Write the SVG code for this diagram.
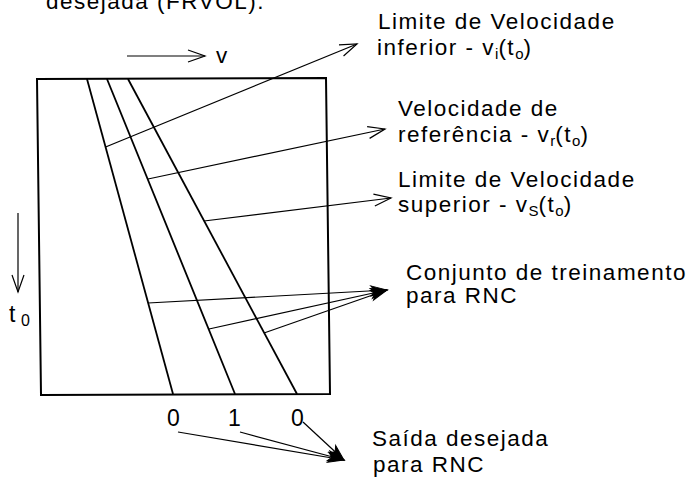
<svg xmlns="http://www.w3.org/2000/svg" width="695" height="487" viewBox="0 0 695 487">
<style>
text{font-family:"Liberation Sans",Arial,sans-serif;fill:#000}
.lbl{font-size:22.5px;letter-spacing:1.5px}
.sub{font-size:15px;letter-spacing:0}
.num{font-size:23px}
.frame{fill:none;stroke:#000;stroke-width:2}
.curve{fill:none;stroke:#000;stroke-width:1.8}
.con{fill:none;stroke:#000;stroke-width:1.2}
</style>
<defs>
<marker id="open" markerUnits="userSpaceOnUse" markerWidth="20" markerHeight="14" refX="18" refY="7" orient="auto">
<path d="M1,1 L18,7 L1,13" fill="none" stroke="#000" stroke-width="1.2"/>
</marker>
<marker id="fill" markerUnits="userSpaceOnUse" markerWidth="20" markerHeight="14" refX="18" refY="7" orient="auto">
<path d="M2,2 L18,7 L2,12 L6,7 Z" fill="#000" stroke="#000" stroke-width="1"/>
</marker>
</defs>
<rect width="695" height="487" fill="#fff"/>
<text class="lbl" x="46" y="9">desejada (FRVOL).</text>
<g id="plot">
<path class="frame" d="M37,79 L326,78 L330,394 L41,395 Z"/>
<line class="curve" x1="87" y1="79" x2="173" y2="394"/>
<line class="curve" x1="107" y1="79" x2="235" y2="394"/>
<line class="curve" x1="128" y1="79" x2="297" y2="394"/>
</g>
<g id="axis-v">
<line class="con" x1="127" y1="56" x2="205" y2="56" marker-end="url(#open)"/>
<text class="lbl" x="216" y="63">v</text>
</g>
<g id="axis-t">
<line class="con" x1="18" y1="213" x2="18" y2="292" marker-end="url(#open)"/>
<text x="9" y="322" style="font-size:23px">t</text>
<text x="21" y="326" style="font-size:16px">0</text>
</g>
<g id="outputs">
<text class="num" x="167" y="426">0</text>
<text class="num" x="228" y="426">1</text>
<text class="num" x="291" y="426">0</text>
</g>
<g id="label-inferior">
<text class="lbl" x="378" y="29">Limite de Velocidade</text>
<text class="lbl" x="377" y="55">inferior - v<tspan class="sub" dy="4">i</tspan><tspan dy="-4">(t</tspan><tspan class="sub" dy="4">o</tspan><tspan dy="-4">)</tspan></text>
</g>
<g id="label-referencia">
<text class="lbl" x="398" y="116">Velocidade de</text>
<text class="lbl" x="398" y="142">referência - v<tspan class="sub" dy="4">r</tspan><tspan dy="-4">(t</tspan><tspan class="sub" dy="4">o</tspan><tspan dy="-4">)</tspan></text>
</g>
<g id="label-superior">
<text class="lbl" x="398" y="187">Limite de Velocidade</text>
<text class="lbl" x="398" y="212">superior - v<tspan class="sub" dy="4">S</tspan><tspan dy="-4">(t</tspan><tspan class="sub" dy="4">o</tspan><tspan dy="-4">)</tspan></text>
</g>
<g id="label-conjunto">
<text class="lbl" x="406" y="280">Conjunto de treinamento</text>
<text class="lbl" x="406" y="303">para RNC</text>
</g>
<g id="label-saida">
<text class="lbl" x="372" y="446">Saída desejada</text>
<text class="lbl" x="373" y="472">para RNC</text>
</g>
<g id="connectors">
<line class="con" x1="105.6" y1="147" x2="357" y2="44" marker-end="url(#open)"/>
<line class="con" x1="148" y1="179" x2="385" y2="129" marker-end="url(#open)"/>
<line class="con" x1="204" y1="221" x2="391" y2="198" marker-end="url(#open)"/>
<line class="con" x1="148" y1="303" x2="387" y2="290" marker-end="url(#fill)"/>
<line class="con" x1="209" y1="329" x2="387" y2="290" marker-end="url(#fill)"/>
<line class="con" x1="264" y1="333" x2="387" y2="290" marker-end="url(#fill)"/>
<line class="con" x1="178" y1="432" x2="344" y2="460" marker-end="url(#fill)"/>
<line class="con" x1="240" y1="432" x2="344" y2="460" marker-end="url(#fill)"/>
<line class="con" x1="303" y1="422" x2="344" y2="460" marker-end="url(#fill)"/>
</g>
</svg>
